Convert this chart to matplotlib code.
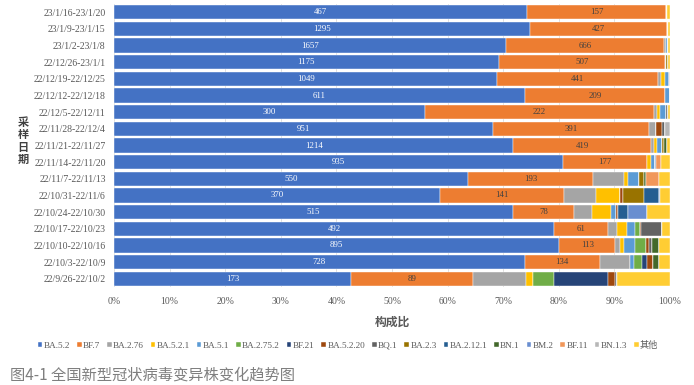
import numpy as np
import matplotlib
matplotlib.use("Agg")
import matplotlib.pyplot as plt

# Fechas de muestreo (de arriba a abajo)
fechas = ["23/1/16-23/1/20", "23/1/9-23/1/15", "23/1/2-23/1/8", "22/12/26-23/1/1",
          "22/12/19-22/12/25", "22/12/12-22/12/18", "22/12/5-22/12/11", "22/11/28-22/12/4",
          "22/11/21-22/11/27", "22/11/14-22/11/20", "22/11/7-22/11/13", "22/10/31-22/11/6",
          "22/10/24-22/10/30", "22/10/17-22/10/23", "22/10/10-22/10/16", "22/10/3-22/10/9",
          "22/9/26-22/10/2"]

variantes = ["BA.5.2", "BF.7", "BA.2.76", "BA.5.2.1", "BA.5.1", "BA.2.75.2", "BF.21",
             "BA.5.2.20", "BQ.1", "BA.2.3", "BA.2.12.1", "BN.1", "BM.2", "BF.11", "BN.1.3", "其他"]

ba_5_2 = [467, 1295, 1657, 1175, 1049, 611, 300, 951, 1214, 935, 550, 370, 515, 492, 895, 728, 173]
bf_7 = [157, 427, 666, 507, 441, 209, 222, 391, 419, 177, 193, 141, 78, 61, 113, 134, 89]
ba_2_76 = [0, 0, 8, 5, 6, 0, 2, 16, 8, 0, 48, 37, 24, 10, 10, 53, 39]
ba_5_2_1 = [1, 3, 0, 0, 12, 0, 3, 0, 10, 7, 7, 27, 24, 11, 8, 0, 5]
ba_5_1 = [0, 0, 12, 0, 11, 7, 6, 0, 15, 8, 17, 0, 6, 9, 21, 7, 0]
ba_2_75_2 = [0, 0, 0, 0, 0, 0, 0, 0, 0, 0, 0, 0, 0, 5, 22, 15, 15]
bf_21 = [0, 0, 0, 0, 0, 0, 0, 0, 0, 0, 0, 0, 0, 0, 0, 9, 40]
ba_5_2_20 = [0, 0, 0, 0, 3, 0, 0, 17, 0, 0, 0, 4, 3, 1, 6, 9, 5]
bq_1 = [0, 0, 0, 0, 0, 0, 2, 6, 0, 0, 0, 0, 0, 24, 7, 0, 1]
ba_2_3 = [0, 0, 0, 5, 0, 0, 0, 0, 8, 0, 7, 23, 0, 0, 0, 0, 0]
ba_2_12_1 = [0, 0, 0, 0, 0, 0, 0, 0, 0, 3, 0, 17, 13, 0, 0, 0, 0]
bn_1 = [0, 0, 0, 0, 0, 0, 0, 0, 7, 0, 3, 0, 0, 0, 13, 11, 0]
bm_2 = [0, 0, 0, 0, 0, 0, 0, 0, 0, 0, 0, 2, 24, 0, 0, 0, 0]
bf_11 = [0, 0, 0, 0, 0, 0, 0, 0, 0, 10, 21, 0, 0, 0, 0, 0, 0]
bn_1_3 = [0, 0, 0, 0, 0, 0, 0, 13, 0, 0, 0, 0, 0, 0, 0, 0, 0]
otros = [3, 5, 7, 6, 0, 0, 2, 0, 10, 19, 17, 11, 30, 9, 23, 20, 39]

series = [ba_5_2, bf_7, ba_2_76, ba_5_2_1, ba_5_1, ba_2_75_2, bf_21, ba_5_2_20, bq_1,
          ba_2_3, ba_2_12_1, bn_1, bm_2, bf_11, bn_1_3, otros]

colores = ["#4472C4", "#ED7D31", "#A5A5A5", "#FFC000", "#5B9BD5", "#70AD47", "#264478",
           "#9E480E", "#636363", "#997300", "#255E91", "#43682B", "#698ED0", "#F1975A",
           "#B7B7B7", "#FFCD33"]

serif = ["Liberation Serif", "Noto Sans CJK SC"]
cjk = ["Noto Sans CJK SC", "DejaVu Sans"]

datos = np.array(series, dtype=float)
totales = datos.sum(axis=0)
pct = datos / totales * 100

fig = plt.figure(figsize=(6.94, 3.85), dpi=100)
ax = fig.add_axes([114 / 694, 1 - 287 / 385, 556 / 694, 283 / 385])

y = np.arange(len(fechas))
izq = np.zeros(len(fechas))
for i, nombre in enumerate(variantes):
    ax.barh(y, pct[i], left=izq, height=0.86, color=colores[i], label=nombre,
            edgecolor="white", linewidth=0.3, zorder=2)
    # etiquetas solo para BA.5.2 y BF.7
    if i < 2:
        for j in range(len(fechas)):
            ax.text(izq[j] + pct[i][j] / 2, y[j], str(series[i][j]),
                    ha="center", va="center", fontsize=6.3,
                    color="white" if i == 0 else "#404040", family=serif, zorder=3)
    izq += pct[i]

ax.set_xlim(0, 100)
ax.set_ylim(len(fechas) - 0.5, -0.5)
ax.set_yticks(y)
ax.set_yticklabels(fechas, family=serif, fontsize=7, color="#595959")
ax.set_xticks(np.arange(0, 101, 10))
ax.set_xticklabels([f"{v}%" for v in range(0, 101, 10)], family=serif, fontsize=7, color="#595959")
ax.tick_params(length=0, pad=6)
ax.tick_params(axis="x", pad=7)
ax.grid(axis="x", color="#D9D9D9", linewidth=0.6, zorder=0)
for s in ax.spines.values():
    s.set_visible(False)

fig.text(392 / 694, 1 - 322 / 385, "构成比", ha="center", va="center", fontsize=8.5,
         fontweight="bold", color="#595959", family=cjk)
fig.text(23 / 694, 1 - 141 / 385, "\n".join("采样日期"), ha="center", va="center",
         fontsize=8, fontweight="bold", color="#404040", family=cjk, linespacing=0.95)

leg = ax.legend(loc="center", bbox_to_anchor=(348 / 694, 1 - 345 / 385), bbox_transform=fig.transFigure,
                ncol=16, frameon=False, handlelength=0.5, handleheight=0.5, handletextpad=0.15,
                columnspacing=0.75, prop={"family": serif, "size": 6.6})
for t in leg.get_texts():
    t.set_color("#595959")

fig.text(10 / 694, 1 - 375 / 385, "图4-1 全国新型冠状病毒变异株变化趋势图", ha="left", va="center",
         fontsize=11, color="#7F7F7F", family=cjk)

fig.savefig("out.png", dpi=100)
